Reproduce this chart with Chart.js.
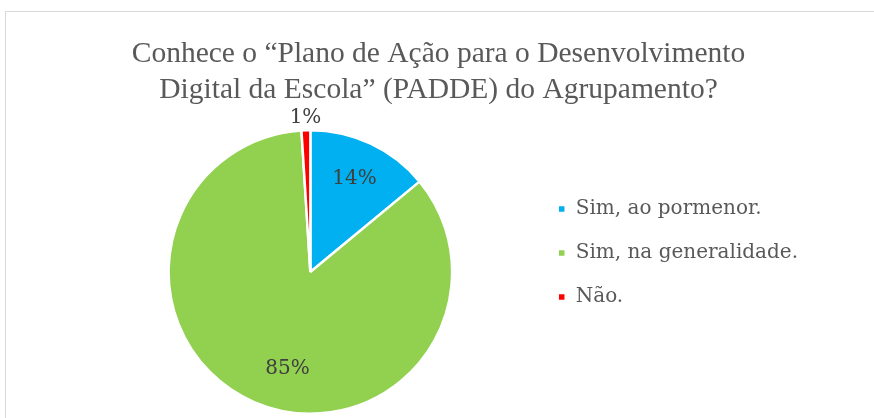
<!DOCTYPE html>
<html>
<head>
<meta charset="utf-8">
<script src="https://cdn.jsdelivr.net/npm/chart.js@4"></script>
<style>
  body { margin: 0; background: #fff; }
  #moldura { position: absolute; left: 5px; top: 11px; width: 900px; height: 500px; border: 1px solid #d9d9d9; }
  #caixa { position: absolute; left: 0; top: 0; width: 874px; height: 418px; }
</style>
</head>
<body>
<div id="moldura"></div>
<div id="caixa"><canvas id="grafico"></canvas></div>
<script>
// Dados
const categorias = ['Sim, ao pormenor.', 'Sim, na generalidade.', 'Não.'];
const percentagens = [14, 85, 1];
const cores = ['#00b0f0', '#92d050', '#ff0000'];
const titulo = ['Conhece o “Plano de Ação para o Desenvolvimento', 'Digital da Escola” (PADDE) do Agrupamento?'];

const fonteTitulo = "'Liberation Serif', serif";
const fonteTexto = "'DejaVu Serif', serif";

// Etiquetas de percentagem sobre as fatias
const etiquetasPlugin = {
    id: 'etiquetas',
    afterDatasetsDraw(chart) {
        const ctx = chart.ctx;
        const meta = chart.getDatasetMeta(0);
        ctx.save();
        ctx.font = '20px ' + fonteTexto;
        ctx.fillStyle = '#404040';
        ctx.textAlign = 'center';
        ctx.textBaseline = 'middle';
        meta.data.forEach(function(arco, i) {
            const p = arco.getProps(['x', 'y', 'startAngle', 'endAngle', 'outerRadius']);
            let meio = (p.startAngle + p.endAngle) / 2;
            let fator = 0.73;
            if (percentagens[i] < 5) {
                fator = 1.09; // fatias pequenas: etiqueta fora
            } else if (percentagens[i] > 50) {
                // fatia dominante: o Excel puxa a etiqueta para baixo
                meio = meio * 0.57 + (Math.PI / 2) * 0.43;
                fator = 0.7;
            }
            const x = p.x + Math.cos(meio) * p.outerRadius * fator;
            const y = p.y + Math.sin(meio) * p.outerRadius * fator;
            ctx.fillText(percentagens[i] + '%', x, y);
        });
        ctx.restore();
    }
};

// Ajustes finos: legenda um pouco acima, título centrado na moldura
const ajustePlugin = {
    id: 'ajusteLayout',
    afterLayout(chart) {
        chart.legend.top -= 19;
        chart.legend.bottom -= 19;
        chart.titleBlock.left -= 9;
        chart.titleBlock.right -= 9;
    }
};

const ctx = document.getElementById('grafico').getContext('2d');
window.graficoPADDE = new Chart(ctx, {
    type: 'pie',
    data: {
        labels: categorias,
        datasets: [{
            data: percentagens,
            backgroundColor: cores,
            borderColor: '#ffffff',
            borderWidth: 2.5
        }]
    },
    options: {
        responsive: true,
        maintainAspectRatio: false,
        animation: false,
        layout: {
            padding: { left: 87, right: 66, top: 0, bottom: 3 }
        },
        plugins: {
            title: {
                display: true,
                text: titulo,
                color: '#595959',
                font: { family: fonteTitulo, size: 29.5, weight: 'normal', lineHeight: 1.22 },
                padding: { top: 36, bottom: 21 }
            },
            legend: {
                position: 'right',
                fullSize: false,
                labels: {
                    boxWidth: 8,
                    boxHeight: 8,
                    padding: 24,
                    color: '#595959',
                    font: { family: fonteTexto, size: 20 }
                }
            },
            tooltip: { enabled: false }
        }
    },
    plugins: [etiquetasPlugin, ajustePlugin]
});
</script>
</body>
</html>
